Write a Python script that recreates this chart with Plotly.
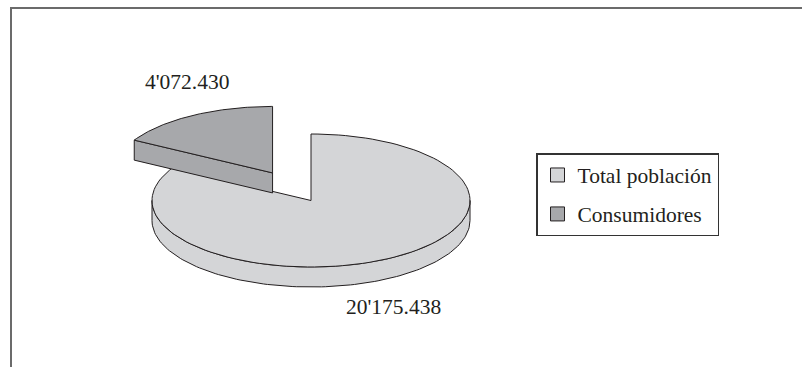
import numpy as np
import plotly.graph_objects as go

# ---- data ----
categories = ["Total población", "Consumidores"]
values = [20175438, 4072430]

# ---- styles ----
colors = ["#d4d5d7", "#a7a8ab"]
pulls = [0.0, 0.48]
EDGE = "#231f20"
FONT = "'Liberation Serif', 'Times New Roman', 'DejaVu Serif', serif"

# pie geometry (pixel-like units on the axes)
CX, CY, R, RY, DEPTH = 311, 200.5, 159, 66.5, 20
W, H = 802, 367


def fmt(v):
    groups = f"{v:,}".split(",")
    if len(groups) > 2:
        return ",".join(groups[:-2]).replace(",", "'") + "'" + ".".join(groups[-2:])
    return ".".join(groups)


def pt(theta, off, dz=0.0, r=1.0):
    t = np.radians(theta)
    return (CX + off[0] + R * r * np.cos(t), CY + off[1] - RY * r * np.sin(t) + dz)


def arc(a, b, off, dz=0.0, n=120):
    th = np.linspace(a, b, n)
    xs, ys = pt(th, off, dz)
    return list(xs), list(ys)


fig = go.Figure()
total = sum(values)


def poly(xs, ys, color):
    fig.add_trace(go.Scatter(
        x=xs + [xs[0]], y=ys + [ys[0]], mode="lines", fill="toself",
        fillcolor=color, line=dict(color=EDGE, width=1),
        hoverinfo="skip", showlegend=False))


start = 90.0
for cat, v, col, pl in zip(categories, values, colors, pulls):
    span = 360.0 * v / total
    hi, lo = start, start - span
    start = lo
    mid = np.radians((hi + lo) / 2)
    off = (R * pl * np.cos(mid), -RY * pl * np.sin(mid))
    # visible outer wall (front half)
    for k in range(-2, 2):
        a = max(lo, -180 + 360 * k)
        b = min(hi, 360 * k)
        if a < b:
            x1, y1 = arc(a, b, off, 0)
            x2, y2 = arc(b, a, off, DEPTH)
            poly(x1 + x2, y1 + y2, col)
    # visible cut faces
    for ang, vis in ((hi, np.cos(np.radians(hi)) < -1e-9), (lo, np.cos(np.radians(lo)) > 1e-9)):
        if vis:
            v0 = pt(ang, off, 0, 0)
            r0 = pt(ang, off, 0)
            r1 = pt(ang, off, DEPTH)
            v1 = pt(ang, off, DEPTH, 0)
            poly([v0[0], r0[0], r1[0], v1[0]], [v0[1], r0[1], r1[1], v1[1]], col)
    # top face
    vx, vy = pt(0, off, 0, 0)
    ax, ay = arc(lo, hi, off, 0)
    poly([vx] + ax, [vy] + ay, col)

# legend entries
for cat, col in zip(categories, colors):
    fig.add_trace(go.Scatter(
        x=[None], y=[None], mode="markers", name=cat, legendgroup=cat,
        marker=dict(symbol="square", size=14, color=col, line=dict(color=EDGE, width=1))))

# data labels
label_pos = [(393, 307), (187, 82)]
for v, (lx, ly) in zip(values, label_pos):
    fig.add_annotation(x=lx, y=ly, text=fmt(v), showarrow=False,
                       font=dict(family=FONT, size=21.5, color=EDGE),
                       xanchor="center", yanchor="middle")

# frame lines
fig.add_shape(type="line", x0=11, y0=H, x1=11, y1=8, line=dict(color="#6b6b6b", width=2))
fig.add_shape(type="line", x0=10, y0=8, x1=W, y1=8, line=dict(color="#6b6b6b", width=2))

fig.update_layout(
    width=W, height=H, autosize=False,
    margin=dict(l=0, r=0, t=0, b=0, pad=0),
    paper_bgcolor="white", plot_bgcolor="white",
    xaxis=dict(range=[0, W], visible=False, fixedrange=True, domain=[0, 1]),
    yaxis=dict(range=[H, 0], visible=False, fixedrange=True, domain=[0, 1]),
    legend=dict(x=536 / W, y=1 - 153 / H, xanchor="left", yanchor="top",
                bgcolor="white", bordercolor="#333333", borderwidth=1.5,
                font=dict(family=FONT, size=21.5, color=EDGE),
                traceorder="grouped", tracegroupgap=8),
    showlegend=True,
)

fig.write_html("out.html")
